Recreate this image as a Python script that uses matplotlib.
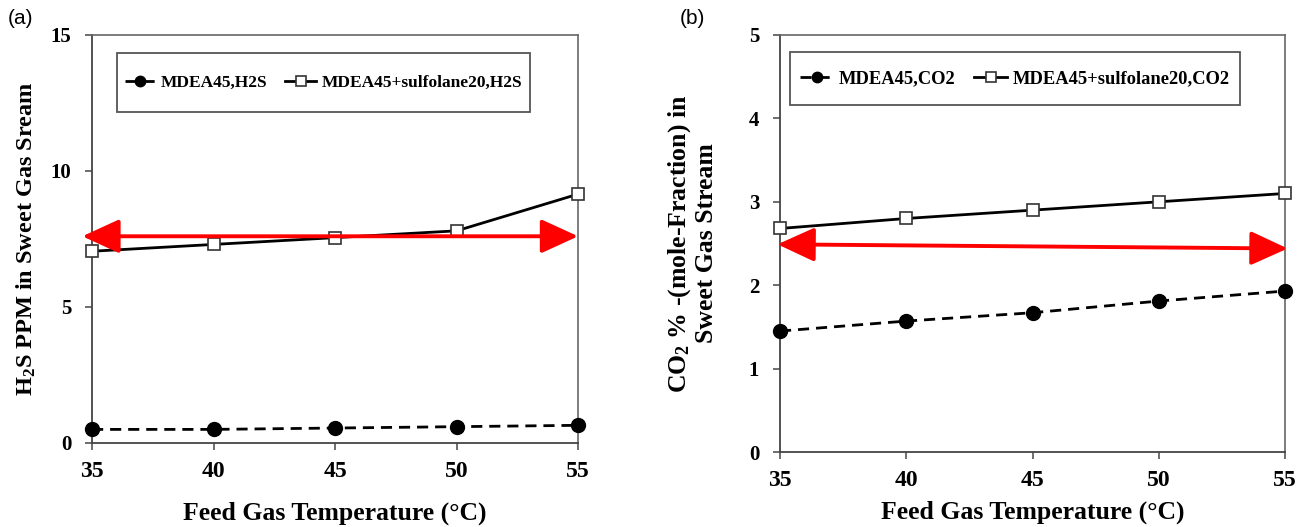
import matplotlib
matplotlib.use("Agg")
import matplotlib.pyplot as plt
from matplotlib.patches import Rectangle

plt.rcParams["mathtext.fontset"] = "custom"
plt.rcParams["mathtext.rm"] = "Liberation Serif:bold"
plt.rcParams["mathtext.it"] = "Liberation Serif:bold"
plt.rcParams["mathtext.bf"] = "Liberation Serif:bold"

temps = [35, 40, 45, 50, 55]

# panel (a): H2S in sweet gas, ppm
h2s_mdea = [0.5, 0.5, 0.55, 0.6, 0.65]
h2s_sulf = [7.05, 7.3, 7.55, 7.8, 9.15]
h2s_spec = [7.6, 7.6]
h2s_spec_x = [34.6, 55.0]

# panel (b): CO2 in sweet gas, mol %
co2_mdea = [1.45, 1.57, 1.67, 1.81, 1.93]
co2_sulf = [2.68, 2.8, 2.9, 3.0, 3.1]
co2_spec = [2.49, 2.44]
co2_spec_x = [34.9, 55.1]

SERIF = "Liberation Serif"

fig = plt.figure(figsize=(13.02, 5.27), dpi=100)
ax_a = fig.add_axes([0.0707, 0.1594, 0.3733, 0.7742])
ax_b = fig.add_axes([0.5991, 0.1423, 0.3879, 0.7913])


def draw(ax, y1, y2, lab1, lab2, ylim, yticks, spec_x, spec_y, box, xpad, ytsize, legsize):
    ax.plot(temps, y1, color="black", ls=(0, (4, 2.5)), lw=2, marker="o",
            ms=10, mfc="black", mec="black", label=lab1, clip_on=False, zorder=4)
    ax.plot(temps, y2, color="black", ls="-", lw=2, marker="s", ms=9,
            mfc="white", mec="#333333", mew=1.2, label=lab2, clip_on=False, zorder=4)
    ax.annotate("", xy=(spec_x[1], spec_y[1]), xytext=(spec_x[0], spec_y[0]),
                arrowprops=dict(arrowstyle="<|-|>,head_length=1.2,head_width=0.55",
                                color="#ff0000", lw=2.8, mutation_scale=19,
                                shrinkA=0, shrinkB=0),
                annotation_clip=False, zorder=5)
    ax.set_xlim(35, 55)
    ax.set_ylim(*ylim)
    ax.set_xticks(temps)
    ax.set_yticks(yticks)
    ax.tick_params(direction="out", length=5, width=1.2, color="#555555")
    ax.tick_params(axis="x", labelsize=17, pad=8)
    ax.tick_params(axis="y", labelsize=ytsize, pad=10)
    for lab in ax.get_xticklabels() + ax.get_yticklabels():
        lab.set_fontfamily(SERIF)
        lab.set_fontweight("bold")
    for s in ["left", "bottom"]:
        ax.spines[s].set_linewidth(1.3)
        ax.spines[s].set_color("#444444")
    for s in ["top", "right"]:
        ax.spines[s].set_color("#666666")
        ax.spines[s].set_linewidth(1.2)
    ax.set_xlabel("Feed Gas Temperature (°C)", fontfamily=SERIF,
                  fontweight="bold", fontsize=18.5, labelpad=xpad)
    # legend frame drawn as a plain box, entries centred inside
    ax.add_patch(Rectangle((box[0], box[1]), box[2], box[3], transform=ax.transAxes,
                           fill=True, facecolor="white", edgecolor="#555555",
                           lw=1.3, zorder=6))
    leg = ax.legend(loc="center", bbox_to_anchor=(box[0] + box[2] / 2, box[1] + box[3] / 2),
                    ncol=2, frameon=False,
                    prop=dict(family=SERIF, weight="bold", size=legsize),
                    handlelength=1.8, handletextpad=0.3, columnspacing=1.0,
                    markerscale=0.75, borderaxespad=0, borderpad=0)
    leg.set_zorder(7)


draw(ax_a, h2s_mdea, h2s_sulf, "MDEA45,H2S", "MDEA45+sulfolane20,H2S",
     (0, 15), [0, 5, 10, 15], h2s_spec_x, h2s_spec, (0.051, 0.811, 0.85, 0.145),
     14, 15, 12.5)
ax_a.set_ylabel("H$_2$S PPM in Sweet Gas Sream", fontfamily=SERIF,
                fontweight="bold", fontsize=17.5, labelpad=9)

draw(ax_b, co2_mdea, co2_sulf, "MDEA45,CO2", "MDEA45+sulfolane20,CO2",
     (0, 5), [0, 1, 2, 3, 4, 5], co2_spec_x, co2_spec, (0.02, 0.832, 0.89, 0.127),
     7, 15, 13.3)
ax_b.set_ylabel("CO$_2$ % -(mole-Fraction) in\nSweet Gas Stream", fontfamily=SERIF,
                fontweight="bold", fontsize=18.5, labelpad=22, linespacing=1.1)

fig.text(0.006, 0.965, "(a)", fontfamily="Liberation Sans", fontsize=15, va="center")
fig.text(0.522, 0.965, "(b)", fontfamily="Liberation Sans", fontsize=15, va="center")

fig.savefig("out.png", dpi=100)
